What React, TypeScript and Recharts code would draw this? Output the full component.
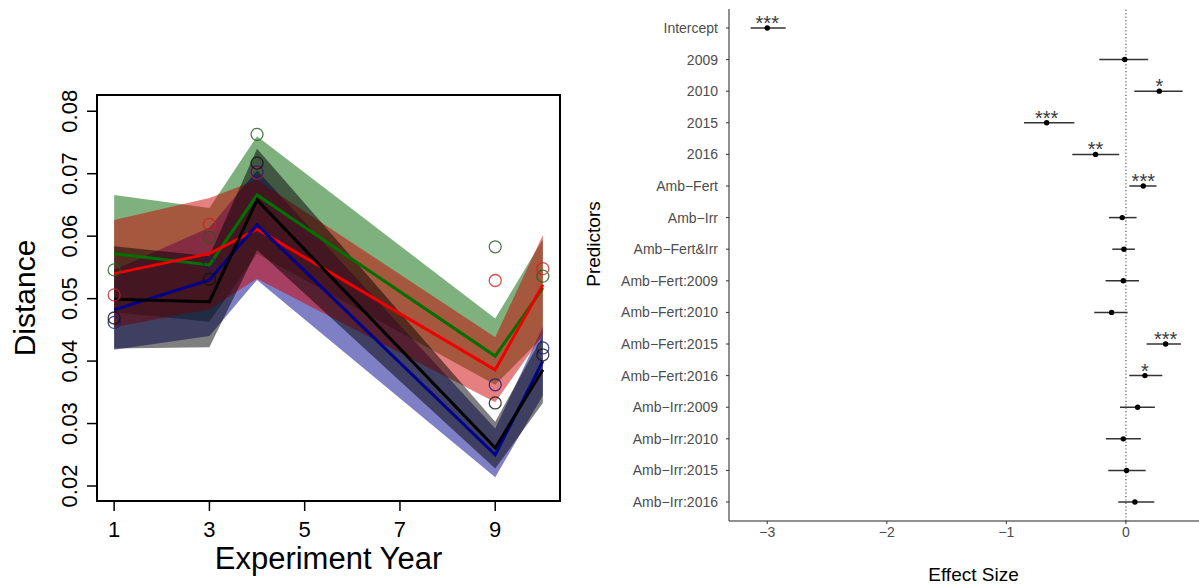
import React from 'react';
import {
  ComposedChart,
  ScatterChart,
  Scatter,
  Area,
  Line,
  XAxis,
  YAxis,
  ReferenceArea,
  ReferenceLine,
  ErrorBar,
  Label,
} from 'recharts';

const FONT = '"Liberation Sans", Arial, Helvetica, sans-serif';

// ---------------- Left panel data ----------------
const years = [1, 3, 4, 9, 10];
const yearTicks = [1, 3, 5, 7, 9];
const distanceTicks = [0.02, 0.03, 0.04, 0.05, 0.06, 0.07, 0.08];

const greenMean = [0.0572, 0.0554, 0.0666, 0.0408, 0.0517];
const greenLo = [0.0478, 0.0463, 0.0572, 0.0362, 0.0439];
const greenHi = [0.0666, 0.0645, 0.0760, 0.0468, 0.0595];
const greenObs = [0.0546, 0.0598, 0.0763, 0.0583, 0.0536];

const redMean = [0.0540, 0.0572, 0.0611, 0.0386, 0.0522];
const redLo = [0.0454, 0.0483, 0.0532, 0.0334, 0.0442];
const redHi = [0.0626, 0.0661, 0.0690, 0.0438, 0.0602];
const redObs = [0.0506, 0.0619, 0.0701, 0.0529, 0.0548];

const blueMean = [0.0482, 0.0530, 0.0618, 0.0250, 0.0400];
const blueLo = [0.0418, 0.0440, 0.0530, 0.0214, 0.0345];
const blueHi = [0.0546, 0.0614, 0.0705, 0.0292, 0.0455];
const blueObs = [0.0462, 0.0556, 0.0703, 0.0362, 0.0421];

const blackMean = [0.0499, 0.0495, 0.0658, 0.0261, 0.0386];
const blackLo = [0.0420, 0.0422, 0.0578, 0.0228, 0.0333];
const blackHi = [0.0584, 0.0568, 0.0740, 0.0303, 0.0440];
const blackObs = [0.0469, 0.0531, 0.0717, 0.0333, 0.0410];

const leftTable = years.map((yr, i) => ({
  year: yr,
  greenMean: greenMean[i],
  greenBand: [greenLo[i], greenHi[i]],
  greenObs: greenObs[i],
  redMean: redMean[i],
  redBand: [redLo[i], redHi[i]],
  redObs: redObs[i],
  blueMean: blueMean[i],
  blueBand: [blueLo[i], blueHi[i]],
  blueObs: blueObs[i],
  blackMean: blackMean[i],
  blackBand: [blackLo[i], blackHi[i]],
  blackObs: blackObs[i],
}));

const X_DOMAIN: [number, number] = [0.64, 10.36];
const Y_DOMAIN: [number, number] = [0.0176, 0.0826];

// ---------------- Right panel data ----------------
const predictors = [
  'Intercept',
  '2009',
  '2010',
  '2015',
  '2016',
  'Amb\u2212Fert',
  'Amb\u2212Irr',
  'Amb\u2212Fert&Irr',
  'Amb\u2212Fert:2009',
  'Amb\u2212Fert:2010',
  'Amb\u2212Fert:2015',
  'Amb\u2212Fert:2016',
  'Amb\u2212Irr:2009',
  'Amb\u2212Irr:2010',
  'Amb\u2212Irr:2015',
  'Amb\u2212Irr:2016',
];
const estimates = [-3.0, -0.01, 0.279, -0.663, -0.254, 0.145, -0.031, -0.017, -0.022, -0.12, 0.332, 0.159, 0.098, -0.022, 0.005, 0.075];
const ciLow = [-3.139, -0.223, 0.07, -0.853, -0.449, 0.028, -0.142, -0.114, -0.17, -0.265, 0.173, 0.028, -0.05, -0.167, -0.148, -0.064];
const ciHigh = [-2.846, 0.186, 0.474, -0.432, -0.056, 0.256, 0.089, 0.075, 0.109, 0.014, 0.46, 0.304, 0.242, 0.125, 0.165, 0.237];
const significance = ['***', '', '*', '***', '**', '***', '', '', '', '', '***', '*', '', '', '', ''];
const effectTicks = [-3, -2, -1, 0];

const forestRows = predictors.map((p, i) => ({
  idx: i + 1,
  est: estimates[i],
  err: [estimates[i] - ciLow[i], ciHigh[i] - estimates[i]],
  sig: significance[i],
}));

const minusFmt = (v: number) => (v < 0 ? '\u2212' + Math.abs(v) : String(v));

const LeftYTick = (props: any) => {
  const { x, y, payload } = props;
  return (
    <text
      x={x}
      y={y}
      transform={`rotate(-90, ${x}, ${y})`}
      textAnchor="middle"
      fontSize={22}
      fill="#000"
      fontFamily={FONT}
    >
      {Number(payload.value).toFixed(2)}
    </text>
  );
};

const ForestPoint = (props: any) => {
  const { cx, cy, payload } = props;
  if (cx == null || cy == null) return null;
  return (
    <g>
      <circle cx={cx} cy={cy} r={2.7} fill="#000" />
      {payload && payload.sig ? (
        <text x={cx} y={cy + 2} textAnchor="middle" fontSize={20} fill="#3a3a3a" fontFamily={FONT}>
          {payload.sig}
        </text>
      ) : null}
    </g>
  );
};

const bandProps = {
  type: 'linear' as const,
  stroke: 'none',
  fillOpacity: 0.5,
  isAnimationActive: false,
  dot: false,
  activeDot: false,
};

const obsDot = (color: string) => ({ r: 6, fill: 'none', stroke: color, strokeWidth: 1.3, strokeOpacity: 0.8 });

export default function App() {
  return (
    <div
      style={{
        position: 'absolute',
        left: 0,
        top: 0,
        width: 1199,
        height: 588,
        overflow: 'hidden',
        background: '#fff',
      }}
    >
      <div style={{ position: 'absolute', left: 0, top: 0 }}>
        <ComposedChart
          width={600}
          height={588}
          data={leftTable}
          margin={{ top: 95, right: 40, bottom: 0, left: 0 }}
        >
          <XAxis
            type="number"
            dataKey="year"
            domain={X_DOMAIN}
            ticks={yearTicks}
            allowDataOverflow
            height={87}
            axisLine={false}
            tickSize={10}
            tickMargin={10}
            tickLine={{ stroke: '#000', strokeWidth: 1.5 }}
            tick={{ fill: '#000', fontSize: 22, fontFamily: FONT }}
          >
            <Label
              content={(p: any) => {
                const vb = p.viewBox || {};
                return (
                  <text
                    x={vb.x + vb.width / 2}
                    y={vb.y + 68}
                    textAnchor="middle"
                    fontSize={31}
                    fill="#000"
                    fontFamily={FONT}
                  >
                    Experiment Year
                  </text>
                );
              }}
            />
          </XAxis>
          <YAxis
            type="number"
            domain={Y_DOMAIN}
            ticks={distanceTicks}
            allowDataOverflow
            width={97}
            axisLine={false}
            tickSize={10}
            tickMargin={10}
            tickLine={{ stroke: '#000', strokeWidth: 1.5 }}
            tick={<LeftYTick />}
            interval={0}
          >
            <Label
              content={(p: any) => {
                const vb = p.viewBox || {};
                const cx = vb.x + 35;
                const cy = vb.y + vb.height / 2;
                return (
                  <text
                    x={cx}
                    y={cy}
                    transform={`rotate(-90, ${cx}, ${cy})`}
                    textAnchor="middle"
                    fontSize={30}
                    fill="#000"
                    fontFamily={FONT}
                  >
                    Distance
                  </text>
                );
              }}
            />
          </YAxis>

          <Area dataKey="greenBand" fill="#006400" {...bandProps} />
          <Area dataKey="blueBand" fill="#00008b" {...bandProps} />
          <Area dataKey="redBand" fill="#cd0000" {...bandProps} />
          <Area dataKey="blackBand" fill="#000000" {...bandProps} />

          <Line dataKey="greenMean" type="linear" stroke="#007000" strokeWidth={3} dot={false} activeDot={false} isAnimationActive={false} />
          <Line dataKey="redMean" type="linear" stroke="#ee0000" strokeWidth={3} dot={false} activeDot={false} isAnimationActive={false} />
          <Line dataKey="blueMean" type="linear" stroke="#00008b" strokeWidth={3} dot={false} activeDot={false} isAnimationActive={false} />
          <Line dataKey="blackMean" type="linear" stroke="#000000" strokeWidth={3} dot={false} activeDot={false} isAnimationActive={false} />

          <Line dataKey="greenObs" stroke="none" dot={obsDot('#1e5e1e')} activeDot={false} isAnimationActive={false} />
          <Line dataKey="redObs" stroke="none" dot={obsDot('#cc2020')} activeDot={false} isAnimationActive={false} />
          <Line dataKey="blueObs" stroke="none" dot={obsDot('#1a1a80')} activeDot={false} isAnimationActive={false} />
          <Line dataKey="blackObs" stroke="none" dot={obsDot('#111111')} activeDot={false} isAnimationActive={false} />

          <ReferenceArea
            x1={X_DOMAIN[0]}
            x2={X_DOMAIN[1]}
            y1={Y_DOMAIN[0]}
            y2={Y_DOMAIN[1]}
            fill="none"
            fillOpacity={0}
            stroke="#000"
            strokeWidth={2}
            ifOverflow="visible"
          />
        </ComposedChart>
      </div>

      <div style={{ position: 'absolute', left: 570, top: 0 }}>
        <ScatterChart
          width={660}
          height={588}
          margin={{ top: 9, right: 12, bottom: 0, left: 0 }}
        >
          <XAxis
            type="number"
            dataKey="est"
            domain={[-3.32, 0.77]}
            ticks={effectTicks}
            allowDataOverflow
            height={67}
            axisLine={{ stroke: '#222', strokeWidth: 1.2 }}
            tickSize={3}
            tickMargin={3}
            tickLine={{ stroke: '#333', strokeWidth: 1 }}
            tick={{ fill: '#4d4d4d', fontSize: 14, fontFamily: FONT }}
            tickFormatter={minusFmt}
          >
            <Label
              content={(p: any) => {
                const vb = p.viewBox || {};
                return (
                  <text
                    x={vb.x + vb.width / 2}
                    y={vb.y + 60}
                    textAnchor="middle"
                    fontSize={19}
                    fill="#000"
                    fontFamily={FONT}
                  >
                    Effect Size
                  </text>
                );
              }}
            />
          </XAxis>
          <YAxis
            type="number"
            dataKey="idx"
            domain={[0.4, 16.6]}
            reversed
            allowDataOverflow
            ticks={forestRows.map((r) => r.idx)}
            interval={0}
            width={159}
            axisLine={{ stroke: '#444', strokeWidth: 1.2 }}
            tickSize={3}
            tickMargin={8}
            tickLine={{ stroke: '#333', strokeWidth: 1 }}
            tick={{ fill: '#4d4d4d', fontSize: 14, fontFamily: FONT }}
            tickFormatter={(v: number) => predictors[v - 1] ?? ''}
          >
            <Label
              content={(p: any) => {
                const vb = p.viewBox || {};
                const cx = vb.x + 30;
                const cy = vb.y + vb.height / 2 - 21;
                return (
                  <text
                    x={cx}
                    y={cy}
                    transform={`rotate(-90, ${cx}, ${cy})`}
                    textAnchor="middle"
                    fontSize={19}
                    fill="#000"
                    fontFamily={FONT}
                  >
                    Predictors
                  </text>
                );
              }}
            />
          </YAxis>
          <ReferenceLine x={0} stroke="#555" strokeWidth={1.2} strokeDasharray="1.2 2.2" />
          <Scatter data={forestRows} shape={<ForestPoint />} isAnimationActive={false}>
            <ErrorBar dataKey="err" direction="x" width={0} stroke="#333" strokeWidth={1.5} />
          </Scatter>
        </ScatterChart>
      </div>
    </div>
  );
}
